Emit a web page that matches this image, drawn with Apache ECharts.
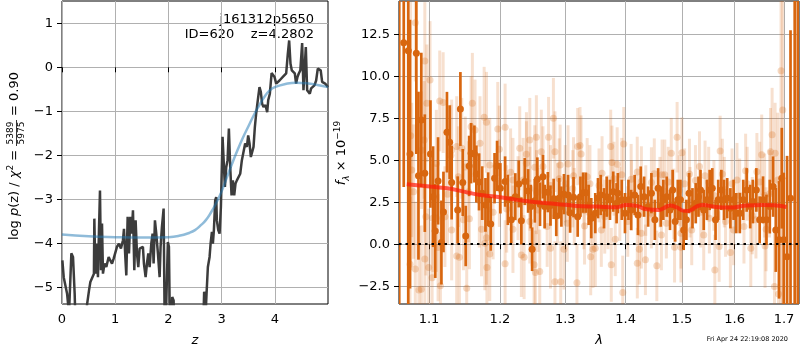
<!DOCTYPE html>
<html>
<head>
<meta charset="utf-8">
<script src="https://cdn.jsdelivr.net/npm/echarts@6/dist/echarts.min.js"></script>
<style>
  html, body { margin: 0; padding: 0; background: #fff; }
  #main { width: 800px; height: 350px; }
</style>
</head>
<body>
<div id="main"></div>
<script>
// left panel: log p(z)
const pzZ = [0.007, 0.032, 0.069, 0.095, 0.132, 0.176, 0.207, 0.238, 0.27, 0.43, 0.47, 0.508, 0.533, 0.57, 0.60, 0.608,
  0.627, 0.652, 0.676, 0.695, 0.714, 0.733, 0.752, 0.77, 0.80, 0.833, 0.877, 0.908, 0.94, 0.971, 1.008, 1.033, 1.071,
  1.108, 1.146, 1.165, 1.19, 1.209, 1.234, 1.259, 1.284, 1.309, 1.334, 1.359, 1.384, 1.409, 1.434, 1.459, 1.49, 1.521,
  1.54, 1.572, 1.597, 1.622, 1.647, 1.678, 1.703, 1.722, 1.747, 1.772, 1.803, 1.835, 1.853, 1.878, 1.91, 1.935, 1.96,
  1.99, 2.01, 2.035, 2.072, 2.098, 2.12, 2.64, 2.672, 2.70, 2.72, 2.742, 2.774, 2.793, 2.818, 2.836, 2.855, 2.88, 2.899,
  2.911, 2.937, 2.962, 2.987, 3.018, 3.043, 3.062, 3.087, 3.112, 3.137, 3.162, 3.187, 3.212, 3.237, 3.262, 3.287, 3.318,
  3.35, 3.381, 3.412, 3.443, 3.475, 3.50, 3.525, 3.55, 3.575, 3.60, 3.625, 3.65, 3.68, 3.712, 3.737, 3.762, 3.787, 3.825,
  3.857, 3.876, 3.907, 3.94, 3.963, 3.995, 4.026, 4.057, 4.088, 4.12, 4.151, 4.18, 4.214, 4.245, 4.27, 4.295, 4.32,
  4.345, 4.376, 4.40, 4.426, 4.451, 4.48, 4.514, 4.539, 4.564, 4.583, 4.608, 4.633, 4.658, 4.683, 4.714, 4.745, 4.777,
  4.808, 4.839, 4.863, 4.89, 4.915, 4.946, 4.977, 5.0];
const pzLog = [-4.39, -4.77, -4.77, -5.14, -5.6, -4.23, -4.31, -5.14, -6.5, -6.5, -5.4, -5.07, -4.88, -4.84, -4.69, -3.44,
  -4.69, -4.01, -4.77, -3.70, -2.80, -4.61, -3.55, -4.69, -4.46, -4.54, -4.31, -4.39, -4.46, -4.35, -4.31, -4.08, -4.01,
  -4.12, -3.93, -3.67, -4.31, -4.73, -3.40, -4.23, -3.40, -3.78, -3.25, -4.61, -3.48, -4.23, -4.54, -4.12, -4.08, -4.08,
  -4.46, -4.77, -4.46, -4.23, -4.54, -4.01, -3.78, -4.46, -3.48, -3.78, -4.23, -4.77, -4.08, -3.63, -3.21, -6.5, -6.5,
  -3.97, -4.08, -6.5, -5.22, -5.30, -6.5, -6.5, -5.1, -5.6, -5.07, -4.54, -4.31, -4.01, -3.74, -4.01, -3.70, -3.02, -2.95,
  -3.48, -3.70, -3.78, -3.17, -1.58, -1.55, -2.72, -2.27, -2.11, -1.39, -2.27, -2.91, -2.57, -2.91, -2.64, -2.57, -2.61,
  -2.42, -2.11, -2.11, -1.73, -1.81, -1.55, -1.73, -2.04, -2.04, -1.81, -1.36, -1.05, -0.75, -0.45, -0.56, -0.83, -0.90, -0.86,
  -1.02, -0.75, -0.60, -0.13, -0.14, -0.22, -0.37, -0.37, -0.30, -0.26, -0.22, -0.22, -0.14, 0.31, 0.61, 0.08, -0.07,
  -0.11, -0.14, -0.37, -0.22, -0.14, -0.07, 0.55, -0.52, -0.56, 0.46, -0.52, -0.52, -0.60, -0.48, -0.45, -0.41, -0.30,
  -0.03, 0.01, -0.07, -0.33, -0.37, -0.37, -0.41, -0.45];
const fitZ = [0, 0.5, 1, 1.5, 2, 2.2, 2.4, 2.5, 2.6, 2.7, 2.8, 2.9, 3.0, 3.1, 3.2, 3.3, 3.4, 3.5, 3.6, 3.7, 3.8, 3.9, 4.0,
  4.2, 4.4, 4.6, 4.8, 5.0];
const fitLog = [-3.80, -3.84, -3.86, -3.87, -3.86, -3.83, -3.76, -3.70, -3.60, -3.48, -3.30, -3.08, -2.82, -2.50, -2.18,
  -1.88, -1.60, -1.35, -1.10, -0.88, -0.68, -0.53, -0.45, -0.38, -0.35, -0.36, -0.40, -0.45];

// right panel: spectrum
const darkLam = [1.0606, 1.0665, 1.0724, 1.0747, 1.0831, 1.0859, 1.0897, 1.0944, 1.1020, 1.1056, 1.1085, 1.1123, 1.1169,
  1.1197, 1.1245, 1.1282, 1.1310, 1.1394, 1.1432, 1.1465, 1.1507, 1.1555, 1.1583, 1.1630, 1.1658, 1.1696, 1.1742, 1.1789,
  1.1827, 1.1865, 1.1921, 1.1958, 1.2006, 1.2076, 1.2117, 1.2167, 1.2228, 1.2280, 1.2319, 1.2371, 1.2422, 1.2463, 1.2483,
  1.2524, 1.2563, 1.2604, 1.2650, 1.2676, 1.2726, 1.2767, 1.2817, 1.2858, 1.2904, 1.2939, 1.2980, 1.3045, 1.3078, 1.3133,
  1.3200, 1.3245, 1.3288, 1.3333, 1.3378, 1.3422, 1.3488, 1.3533, 1.3578, 1.3633, 1.3678, 1.3733, 1.3788, 1.3845, 1.3867,
  1.3933, 1.3988, 1.4048, 1.4094, 1.4155, 1.4213, 1.4261, 1.4320, 1.4391, 1.4449, 1.4510, 1.4568, 1.4616, 1.4662, 1.4723,
  1.4782, 1.4830, 1.4876, 1.4924, 1.4972, 1.5032, 1.5082, 1.5131, 1.5195, 1.5256, 1.5307, 1.5345, 1.5406, 1.5468, 1.5519,
  1.5569, 1.5631, 1.5682, 1.5743, 1.5794, 1.5856, 1.5918, 1.5981, 1.6033, 1.6103, 1.6171, 1.6239, 1.6309, 1.6362, 1.6432,
  1.6500, 1.6568, 1.6638, 1.6706, 1.6774, 1.6829, 1.6897, 1.6953, 1.6994, 1.7064, 1.7136, 1.7224, 1.7290];
const darkFlux = [16.0, 12.0, 11.52, 5.37, 11.37, 4.08, 7.40, 4.23, 5.37, 2.83, 0.79, 3.77, 0.10, 1.92, 6.67, 6.07, 3.67,
  2.04, 8.05, 3.67, 0.49, 4.66, 5.42, 5.37, 4.18, 3.71, 3.04, 2.34, 2.68, 1.21, 3.93, 4.66, 3.33, 3.73, 2.64, 1.45, 2.83,
  3.59, 1.39, 3.73, 3.17, 2.24, -0.30, 2.58, 3.87, 2.38, 4.02, 2.24, 3.10, 2.30, 2.70, 1.68, 2.74, 2.24, 2.98, 2.93, 1.88,
  2.80, 1.64, 2.83, 3.07, 3.07, 2.34, 1.55, 1.85, 2.74, 2.93, 2.14, 2.83, 2.64, 3.13, 2.44, 3.04, 2.64, 1.85, 2.64, 2.04,
  2.93, 1.74, 3.43, 2.83, 2.24, 3.04, 1.45, 3.33, 2.24, 2.64, 2.83, 2.04, 3.23, 1.35, 2.64, 2.64, 0.85, 1.45, 3.04, 2.14,
  2.44, 2.83, 3.23, 2.04, 2.64, 3.23, 3.33, 1.45, 2.64, 3.23, 2.64, 2.74, 2.14, 2.64, 1.85, 1.85, 2.64, 3.23, 2.24, 2.54,
  3.23, 1.45, 2.64, 1.45, 2.24, 3.43, 0.85, 0.26, 3.93, 0.26, -0.74, 2.74, 16.0, -6.0];
const darkErr = [30, 8.6, 16, 8, 6, 5, 4, 3.5, 3.2, 3.0, 2.8, 2.6, 2.5, 2.4, 2.4, 2.2, 2.2, 2.0, 2.2, 2.0, 1.8, 1.8, 1.8,
  1.7, 1.7, 1.7, 1.6, 1.6, 1.6, 1.6, 1.5, 1.5, 1.5, 1.5, 1.5, 1.4, 1.4, 1.4, 1.4, 1.4, 1.3, 1.3, 1.3, 1.3, 1.3, 1.3, 1.3,
  1.3, 1.2, 1.2, 1.2, 1.2, 1.2, 1.2, 1.2, 1.2, 1.2, 1.2, 1.2, 1.2, 1.2, 1.2, 1.2, 1.2, 1.2, 1.2, 1.2, 1.2, 1.2, 1.2, 1.2,
  1.2, 1.2, 1.2, 1.2, 1.2, 1.2, 1.2, 1.2, 1.2, 1.2, 1.2, 1.2, 1.2, 1.2, 1.2, 1.2, 1.2, 1.2, 1.2, 1.2, 1.2, 1.2, 1.2, 1.2,
  1.2, 1.2, 1.2, 1.2, 1.2, 1.2, 1.2, 1.2, 1.2, 1.2, 1.2, 1.2, 1.2, 1.2, 1.2, 1.2, 1.2, 1.2, 1.2, 1.3, 1.3, 1.3, 1.3, 1.4,
  1.4, 1.5, 1.6, 1.8, 2.5, 3.5, 3.0, 4.0, 6, 10, 30, 30];

const lightLam = [1.0817, 1.0944, 1.1014, 1.1146, 1.1193, 1.0972, 1.0756, 1.1601, 1.1770, 1.1803, 1.1968, 1.1583, 1.1380,
  1.1451, 1.1639, 1.1310, 1.1851, 1.1404, 1.0770, 1.0935, 1.1052, 1.1099, 1.1475, 1.1559, 1.1732, 1.1803, 1.1123, 1.1380,
  1.1418, 1.0747, 1.0817, 1.0944, 1.0996, 1.1042, 1.1155, 1.0865, 1.0897, 1.1521, 1.1810, 1.1851, 1.1780, 1.1253, 1.1545,
  1.1710, 1.0794, 1.0958, 1.1217, 1.1310,
  1.2076, 1.1991, 1.2158, 1.2295, 1.2396, 1.2447, 1.2548, 1.2737, 1.2813, 1.2624, 1.2837, 1.2919, 1.3045, 1.3200, 1.3238,
  1.3255, 1.3355, 1.3133, 1.2524, 1.2346, 1.2076, 1.2319, 1.2361, 1.2513, 1.2533, 1.2600, 1.2837, 1.2928, 1.3188, 1.2767,
  1.2980, 1.3412, 1.3450, 1.3488, 1.2193, 1.2447, 1.2715, 1.3033, 1.3312, 1.1991, 1.2574, 1.2878, 1.2269, 1.3145,
  1.3745, 1.3967, 1.3767, 1.3855, 1.3600, 1.3933, 1.4094, 1.4272, 1.4449, 1.4639, 1.4805, 1.4911, 1.5000, 1.5139, 1.4687,
  1.3755, 1.3950, 1.4201, 1.4236, 1.4343, 1.4545, 1.4865, 1.4982, 1.3822, 1.3588, 1.4272, 1.4627, 1.4982, 1.5181, 1.3645,
  1.4036, 1.4716, 1.4449,
  1.5719, 1.5326, 1.5431, 1.5762, 1.6047, 1.6218, 1.6444, 1.6541, 1.6720, 1.6753, 1.6815, 1.6938, 1.6973, 1.6870, 1.5617,
  1.5918, 1.5700, 1.6321, 1.6609, 1.6802, 1.6885, 1.5406, 1.5981, 1.6185, 1.6630, 1.5513, 1.5824, 1.6424,
  1.2193, 1.2396, 1.2650, 1.2767, 1.2904, 1.3000, 1.3120, 1.3300, 1.3400, 1.3550, 1.3700, 1.3800, 1.3900, 1.4100, 1.4200,
  1.4350, 1.4500, 1.4600, 1.4750, 1.4850, 1.4950, 1.5050, 1.5150, 1.5250, 1.5350, 1.5500, 1.5600, 1.5800, 1.5950, 1.6100,
  1.6250, 1.6350, 1.6500, 1.6600, 1.6700, 1.2450, 1.2550, 1.2100, 1.1900, 1.1700, 1.1500, 1.1300, 1.1100, 1.0900];
const lightFlux = [13.19, 10.91, 9.78, 8.53, 8.43, 8.39, 6.45, 8.39, 7.56, 7.26, 6.86, 7.0, 5.81, 5.71, 6.80, 5.61, 4.72,
  4.02, 4.42, 6.21, 1.55, 1.55, 1.45, 1.51, 0.89, 0.39, -0.20, -0.70, -0.77, -1.19, -1.47, -0.88, -1.39, -1.99, -2.48,
  -2.72, -2.68, -2.62, -1.39, -0.58, 0.06, 2.98, 3.13, 6.01, 3.13, 1.64, 1.64, 0.85,
  6.96, 5.65, 4.29, 5.71, 5.36, 6.21, 6.37, 6.37, 7.50, 5.51, 5.51, 4.72, 4.78, 5.81, 5.87, 5.37, 4.02, 4.07, 4.58, 3.83,
  -1.17, -0.64, -0.77, -1.23, -1.69, -1.63, -2.23, -2.23, -2.29, -0.24, -0.30, -0.74, -0.30, -0.24, 0.89, 1.35, 1.05,
  1.25, 1.09, 3.63, 2.04, 2.44, 2.74, 2.24,
  5.81, 5.97, 4.86, 4.76, 4.23, 4.13, 3.87, 3.73, 3.67, 4.13, 5.42, 6.37, 5.45, 4.18, 4.13, -1.23, -2.88, -1.13, -0.30,
  -0.93, -1.29, -0.18, -0.18, 0.30, 0.85, 0.65, 0.55, 0.65, 0.85, 1.64, 1.35, 1.25, 1.85,
  5.55, 4.62, 4.07, 4.18, 3.83, 4.38, 4.32, 5.32, 5.51, 6.51, 5.42, 10.32, 7.99, 3.83, -1.53, -0.50, -0.14, -0.24, -0.10,
  -2.52, -2.96, 0.55, 0.85, 1.05, 0.89, 1.55, 1.35, 1.45,
  3.83, 4.82, 4.62, 3.50, 3.90, 3.60, 3.30, 2.00, 3.60, 3.50, 1.90, 3.90, 2.40, 2.90, 4.30, 2.60, 4.20, 3.10, 3.70, 2.40,
  3.20, 3.60, 2.50, 3.80, 1.90, 3.70, 2.90, 3.10, 3.60, 2.90, 3.60, 1.70, 3.70, 2.90, 3.00, 3.30, 3.10, 2.10, 1.90, 2.60,
  4.60, 5.30, 4.80, 5.60];
const lightErr = [3.5, 3.5, 3.5, 3.0, 3.0, 3.5, 8.0, 3.0, 3.0, 3.0, 2.8, 3.0, 3.0, 3.0, 3.0, 3.0, 2.8, 3.0, 4.0, 3.5, 3.2,
  3.2, 3.0, 3.0, 2.8, 2.8, 3.2, 3.0, 3.0, 4.0, 4.0, 3.5, 3.5, 3.3, 3.2, 3.8, 3.8, 3.0, 2.8, 2.8, 2.8, 3.0, 3.0, 2.8, 4.0,
  3.5, 3.0, 3.0,
  2.6, 2.6, 2.6, 2.5, 2.5, 2.5, 2.5, 2.4, 2.4, 2.5, 2.4, 2.4, 2.3, 2.3, 2.3, 2.3, 2.3, 2.3, 2.5, 2.5, 2.6, 2.5, 2.5, 2.5,
  2.5, 2.5, 2.4, 2.4, 2.3, 2.4, 2.4, 2.3, 2.3, 2.3, 2.6, 2.5, 2.4, 2.3, 2.3, 2.6, 2.5, 2.4, 2.5, 2.3,
  2.2, 2.2, 2.2, 2.2, 2.2, 2.2, 2.1, 2.1, 2.1, 2.1, 2.1, 2.1, 2.1, 2.1, 2.1, 2.2, 2.2, 2.1, 2.1, 2.1, 2.1, 2.1, 2.1, 2.2,
  2.2, 2.1, 2.1, 2.1, 2.1, 2.2, 2.1, 2.1, 2.1,
  2.1, 2.1, 2.1, 2.1, 2.2, 2.2, 2.3, 2.4, 2.6, 2.8, 3.0, 15, 12, 4.0, 2.1, 2.1, 2.1, 2.3, 2.5, 3.5, 4.0, 2.1, 2.1, 2.2,
  2.5, 2.1, 2.1, 2.3,
  2.5, 2.5, 2.4, 2.4, 2.4, 2.3, 2.3, 2.3, 2.3, 2.2, 2.2, 2.2, 2.2, 2.1, 2.1, 2.1, 2.1, 2.1, 2.1, 2.1, 2.1, 2.1, 2.1, 2.1,
  2.1, 2.1, 2.1, 2.1, 2.1, 2.2, 2.2, 2.3, 2.4, 2.5, 2.6, 2.5, 2.5, 2.6, 2.8, 2.8, 3.0, 3.0, 3.2, 3.5];

const modelLam = [1.0704, 1.101, 1.1245, 1.1479, 1.1714, 1.1949, 1.2254, 1.2558, 1.2858, 1.3178, 1.3512, 1.3845, 1.4012,
  1.419, 1.4368, 1.4574, 1.4662, 1.4782, 1.4901, 1.502, 1.5112, 1.5269, 1.5393, 1.558, 1.5893, 1.6226, 1.6568, 1.6843,
  1.7051];
const modelFlux = [3.57, 3.43, 3.33, 3.13, 2.93, 2.83, 2.64, 2.50, 2.40, 2.28, 2.24, 2.20, 2.34, 2.28, 2.08, 2.04, 2.14,
  2.30, 2.20, 2.00, 1.98, 2.24, 2.34, 2.24, 2.18, 2.30, 2.34, 2.30, 2.22];

const tickZ = [0, 1, 2, 3, 4];
const tickLogP = [-5, -4, -3, -2, -1, 0, 1];
const tickLam = [1.1, 1.2, 1.3, 1.4, 1.5, 1.6, 1.7];
const tickFlux = [-2.5, 0, 2.5, 5, 7.5, 10, 12.5];

const FONT = 'DejaVu Sans';
const ORANGE = '#d8660f';
const minus = s => String(s).replace('-', '\u2212');

function errorBar(color, width, alpha) {
  return function (params, api) {
    let top = api.coord([api.value(0), api.value(1) + api.value(2)]);
    let bot = api.coord([api.value(0), api.value(1) - api.value(2)]);
    return {
      type: 'line',
      shape: { x1: top[0], y1: top[1], x2: bot[0], y2: bot[1] },
      style: { stroke: color, lineWidth: width, opacity: alpha }
    };
  };
}

const lightData = lightLam.map((l, i) => [Math.log(l), lightFlux[i], lightErr[i]]);
const darkData = darkLam.map((l, i) => [Math.log(l), darkFlux[i], darkErr[i]]);

const axisCommon = {
  axisLine: { show: false },
  axisTick: { show: true, length: 5, lineStyle: { color: '#000', width: 1 } },
  axisLabel: { color: '#000', fontFamily: FONT, fontSize: 13 },
  splitLine: { show: true, lineStyle: { color: '#b0b0b0', width: 1 } }
};

let option = {
  animation: false,
  backgroundColor: '#fff',
  grid: [
    { left: 62, top: 1, width: 266, height: 303, show: true, borderColor: '#000', borderWidth: 1, backgroundColor: 'transparent' },
    { left: 399, top: 1, width: 400, height: 303, show: true, borderColor: '#000', borderWidth: 1, backgroundColor: 'transparent' }
  ],
  xAxis: [
    {
      gridIndex: 0, type: 'value', min: 0, max: 5.0, ...axisCommon,
      axisTick: { ...axisCommon.axisTick, customValues: tickZ },
      axisLabel: { ...axisCommon.axisLabel, margin: 9, customValues: tickZ }
    },
    {
      gridIndex: 1, type: 'value', min: Math.log(1.0603), max: Math.log(1.7315), ...axisCommon,
      axisTick: { ...axisCommon.axisTick, customValues: tickLam.map(Math.log) },
      axisLabel: { ...axisCommon.axisLabel, margin: 9, customValues: tickLam.map(Math.log),
        formatter: v => Math.exp(v).toFixed(1) }
    }
  ],
  yAxis: [
    {
      gridIndex: 0, type: 'value', min: -5.38, max: 1.507, ...axisCommon,
      axisTick: { ...axisCommon.axisTick, customValues: tickLogP },
      axisLabel: { ...axisCommon.axisLabel, margin: 9, customValues: tickLogP, formatter: v => minus(v) }
    },
    {
      gridIndex: 1, type: 'value', min: -3.56, max: 14.48, ...axisCommon,
      axisTick: { ...axisCommon.axisTick, customValues: tickFlux },
      axisLabel: { ...axisCommon.axisLabel, margin: 9, customValues: tickFlux, formatter: v => minus(v.toFixed(1)) }
    }
  ],
  series: [
    {
      type: 'line', xAxisIndex: 0, yAxisIndex: 0, showSymbol: false, clip: true,
      data: pzZ.map((z, i) => [z, pzLog[i]]),
      lineStyle: { color: '#3c3c3c', width: 2.5 }
    },
    {
      type: 'line', xAxisIndex: 0, yAxisIndex: 0, showSymbol: false, smooth: true, clip: true,
      data: fitZ.map((z, i) => [z, fitLog[i]]),
      lineStyle: { color: '#1f77b4', width: 2.5, opacity: 0.5 }
    },
    {
      type: 'custom', xAxisIndex: 1, yAxisIndex: 1, clip: true, data: lightData,
      encode: { x: 0, y: 1 }, renderItem: errorBar(ORANGE, 3, 0.2)
    },
    {
      type: 'scatter', xAxisIndex: 1, yAxisIndex: 1, symbolSize: 7, clip: true,
      data: lightData.map(d => [d[0], d[1]]),
      itemStyle: { color: ORANGE, opacity: 0.25 }
    },
    {
      type: 'custom', xAxisIndex: 1, yAxisIndex: 1, clip: true, data: darkData,
      encode: { x: 0, y: 1 }, renderItem: errorBar(ORANGE, 2.7, 1)
    },
    {
      type: 'scatter', xAxisIndex: 1, yAxisIndex: 1, symbolSize: 7, clip: true,
      data: darkData.map(d => [d[0], d[1]]),
      itemStyle: { color: ORANGE, opacity: 1 }
    },
    {
      type: 'line', xAxisIndex: 1, yAxisIndex: 1, showSymbol: false, smooth: true, clip: true,
      data: modelLam.map((l, i) => [Math.log(l), modelFlux[i]]),
      lineStyle: { color: '#ff1a0a', width: 4, opacity: 0.7 },
      markLine: {
        silent: true, symbol: 'none', label: { show: false },
        lineStyle: { color: '#000', width: 2, type: [2.5, 4], opacity: 1 },
        data: [{ yAxis: 0 }]
      }
    }
  ],
  graphic: [
    {
      type: 'group', x: 15, y: 240, rotation: Math.PI / 2,
      children: [
        {
          type: 'text', x: 0, y: 0,
          style: {
            text: '{a|log }{i|p}{a|(z) / }{i|\u03c7}{s|2}{a| =}',
            align: 'left', verticalAlign: 'middle', fill: '#000',
            rich: {
              a: { fontFamily: FONT, fontSize: 13, lineHeight: 18, verticalAlign: 'middle' },
              i: { fontFamily: FONT, fontSize: 13, fontStyle: 'italic', lineHeight: 18, verticalAlign: 'middle' },
              s: { fontFamily: FONT, fontSize: 9, lineHeight: 18, verticalAlign: 'top' }
            }
          }
        },
        { type: 'text', x: 107, y: 0.5, style: { text: '5389', font: '9px "DejaVu Sans"', fill: '#000', align: 'center', verticalAlign: 'bottom' } },
        { type: 'line', shape: { x1: 94, y1: 1.5, x2: 120, y2: 1.5 }, style: { stroke: '#000', lineWidth: 0.8 } },
        { type: 'text', x: 107, y: 2.5, style: { text: '5975', font: '9px "DejaVu Sans"', fill: '#000', align: 'center', verticalAlign: 'top' } },
        { type: 'text', x: 124, y: 0, style: { text: '= 0.90', font: '13px "DejaVu Sans"', fill: '#000', align: 'left', verticalAlign: 'middle' } }
      ]
    },
    {
      type: 'text', x: 342, y: 153, rotation: Math.PI / 2,
      style: {
        text: '{i|f}{b|\u03bb}{a| \u00d7 10}{s|\u221219}',
        align: 'center', verticalAlign: 'middle', fill: '#000',
        rich: {
          a: { fontFamily: FONT, fontSize: 13, lineHeight: 18, verticalAlign: 'middle' },
          i: { fontFamily: FONT, fontSize: 13, fontStyle: 'italic', lineHeight: 18, verticalAlign: 'middle' },
          b: { fontFamily: FONT, fontSize: 9, fontStyle: 'italic', lineHeight: 18, verticalAlign: 'bottom' },
          s: { fontFamily: FONT, fontSize: 9, lineHeight: 18, verticalAlign: 'top' }
        }
      }
    },
    { type: 'text', x: 314, y: 20, style: { text: 'j161312p5650', font: '13px "DejaVu Sans"', fill: '#000', align: 'right', verticalAlign: 'middle' } },
    { type: 'text', x: 314, y: 35, style: { text: 'ID=620    z=4.2802', font: '13px "DejaVu Sans"', fill: '#000', align: 'right', verticalAlign: 'middle' } },
    { type: 'text', x: 195, y: 341, style: { text: 'z', font: 'italic 13px "DejaVu Sans"', fill: '#000', align: 'center', verticalAlign: 'middle' } },
    { type: 'text', x: 599, y: 341, style: { text: '\u03bb', font: 'italic 13px "DejaVu Sans"', fill: '#000', align: 'center', verticalAlign: 'middle' } },
    { type: 'text', x: 788, y: 339.5, style: { text: 'Fri Apr 24 22:19:08 2020', font: '6.5px "DejaVu Sans"', fill: '#000', align: 'right', verticalAlign: 'middle' } }
  ]
};

let chartDom = document.getElementById('main');
let myChart = echarts.init(chartDom, null, { renderer: 'canvas' });
myChart.setOption(option);
</script>
</body>
</html>
